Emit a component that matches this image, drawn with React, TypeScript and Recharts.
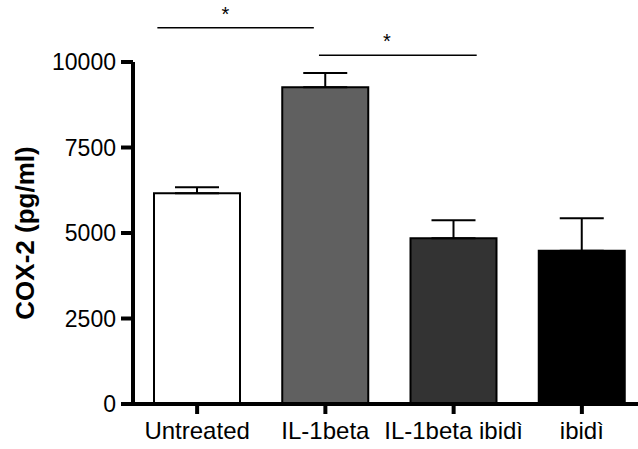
import React from 'react';
import { BarChart, Bar, XAxis, YAxis, ErrorBar, Cell, ReferenceLine, ReferenceDot } from 'recharts';

// values
const groups = ['Untreated', 'IL-1beta', 'IL-1beta ibidì', 'ibidì'];
const means = [6160, 9260, 4850, 4480];
const sems = [180, 420, 520, 950];
const fills = ['#ffffff', '#606060', '#333333', '#000000'];
const yTicks = [0, 2500, 5000, 7500, 10000];

// significance brackets, x in category units (0..4), y in pg/ml
const sigFrom = [0.19, 1.45];
const sigTo = [1.41, 2.68];
const sigY = [11000, 10200];
const starX = [0.72, 1.98];

// pos = centre of each category on a 0..4 scale (used by the hidden numeric axis)
const data = groups.map((name, i) => ({ name, pos: i + 0.5, cox2: means[i], err: [0, sems[i]] }));

const font = '"Liberation Sans", Arial, sans-serif';

const YLabel = (props: any) => {
  const vb = props.viewBox || { x: 0, y: 0, height: 0 };
  const x = 25;
  const y = vb.y + vb.height / 2;
  return (
    <text
      x={x}
      y={y}
      transform={`rotate(-90, ${x}, ${y})`}
      textAnchor="middle"
      dominantBaseline="central"
      style={{ fontFamily: font, fontSize: 26, fontWeight: 'bold', fill: '#000' }}
    >
      COX-2 (pg/ml)
    </text>
  );
};

export default function App() {
  return (
    <div style={{ position: 'absolute', left: 0, top: 0, width: 638, height: 449, overflow: 'hidden', background: '#fff' }}>
      <BarChart width={646} height={449} data={data} margin={{ top: 62, right: 0, left: 0, bottom: 0 }}>
        <XAxis
          dataKey="name"
          height={45}
          axisLine={{ stroke: '#000', strokeWidth: 4 }}
          tickLine={{ stroke: '#000', strokeWidth: 4 }}
          tickSize={10}
          tickMargin={8}
          tick={{ fontSize: 24, fill: '#000', fontFamily: font }}
          interval={0}
        />
        <XAxis xAxisId="n" dataKey="pos" type="number" domain={[0, 4]} allowDataOverflow hide />
        <YAxis
          width={133}
          domain={[0, 10000]}
          ticks={yTicks}
          interval={0}
          axisLine={{ stroke: '#000', strokeWidth: 4 }}
          tickLine={{ stroke: '#000', strokeWidth: 4 }}
          tickSize={12}
          tickMargin={5}
          tick={{ fontSize: 23, fill: '#000', fontFamily: font }}
          label={<YLabel />}
        />
        <Bar dataKey="cox2" barSize={86} stroke="#000" strokeWidth={2} isAnimationActive={false}>
          {data.map((d, i) => (
            <Cell key={d.name} fill={fills[i]} />
          ))}
          <ErrorBar dataKey="err" width={22} stroke="#000" strokeWidth={2} direction="y" />
        </Bar>
        {sigFrom.map((f, i) => (
          <ReferenceLine
            key={'l' + i}
            xAxisId="n"
            ifOverflow="visible"
            segment={[{ x: f, y: sigY[i] }, { x: sigTo[i], y: sigY[i] }]}
            stroke="#000"
            strokeWidth={1.5}
          />
        ))}
        {starX.map((sx, i) => (
          <ReferenceDot
            key={'s' + i}
            xAxisId="n"
            x={sx}
            y={sigY[i]}
            r={0}
            ifOverflow="visible"
            label={{ value: '*', position: 'top', offset: 7, fontSize: 20, fill: '#000', fontFamily: font }}
          />
        ))}
      </BarChart>
    </div>
  );
}
